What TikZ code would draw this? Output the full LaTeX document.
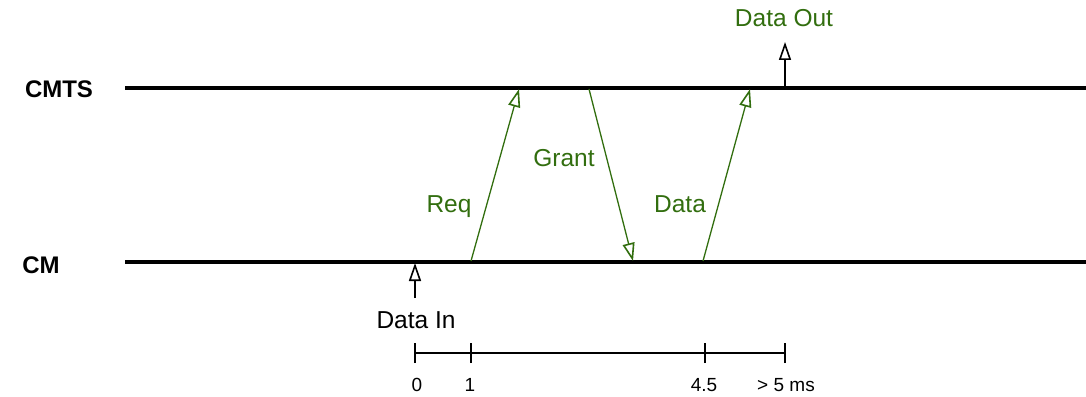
\documentclass[tikz,border=0pt]{standalone}
\usepackage{fontspec}
\setmainfont{Liberation Sans}
\usetikzlibrary{arrows.meta}
\definecolor{grn}{RGB}{50,110,15}
\begin{document}
\begin{tikzpicture}[x=1pt,y=-1pt,
  lane/.style={line width=3.6pt},
  msg/.style={grn,line width=1.3pt,-{Triangle[open,length=18pt,width=12pt,line width=1.6pt]}},
  ev/.style={black,line width=1.3pt,-{Triangle[open,length=18pt,width=12pt,line width=1.6pt]}},
  lbl/.style={font=\fontsize{24.5}{28}\selectfont,inner sep=0pt,anchor=base},
  glbl/.style={lbl,text=grn},
  blbl/.style={font=\bfseries\fontsize{24}{28}\selectfont,inner sep=0pt,anchor=base},
  tick/.style={line width=1.2pt},
  tlbl/.style={font=\fontsize{19}{22}\selectfont,inner sep=0pt,anchor=base}]
\useasboundingbox (0,0) rectangle (1086,396);
% lanes
\coordinate (cmtsL) at (125,88);
\coordinate (cmtsR) at (1086,88);
\coordinate (cmL) at (125,262);
\coordinate (cmR) at (1086,262);
\draw[lane] (cmtsL) -- (cmtsR);
\draw[lane] (cmL) -- (cmR);
\node[blbl] (cmts) at (59,97.5) {CMTS};
\node[blbl] (cm) at (41,273) {CM};
% messages
\coordinate (req1) at (471,261);
\coordinate (req2) at (519,89);
\coordinate (gr1) at (589,89);
\coordinate (gr2) at (633,261);
\coordinate (da1) at (703,261);
\coordinate (da2) at (750,89);
\draw[msg] (req1) -- (req2);
\draw[msg] (gr1) -- (gr2);
\draw[msg] (da1) -- (da2);
\node[glbl] (reqL) at (449,212) {Req};
\node[glbl] (grL) at (564,166) {Grant};
\node[glbl] (daL) at (680,212) {Data};
% data out
\coordinate (do1) at (785,87);
\coordinate (do2) at (785,42);
\draw[ev] (do1) -- (do2);
\node[glbl] (dout) at (784,27) {Data Out};
% data in
\coordinate (di1) at (415,298);
\coordinate (di2) at (415,263);
\draw[ev] (di1) -- (di2);
\node[lbl] (din) at (416,328) {Data In};
% timeline
\coordinate (t0) at (415,353);
\coordinate (t1) at (471,353);
\coordinate (t2) at (705,353);
\coordinate (t3) at (785,353);
\draw[tick] (t0) -- (t3);
\foreach \c in {t0,t1,t2,t3}{\draw[tick] ([yshift=-10pt]\c) -- ([yshift=10pt]\c);}
\node[tlbl] (l0) at (417,391) {0};
\node[tlbl] (l1) at (470,391) {1};
\node[tlbl] (l2) at (704,391) {4.5};
\node[tlbl] (l3) at (786,391) {> 5 ms};
\end{tikzpicture}
\end{document}
